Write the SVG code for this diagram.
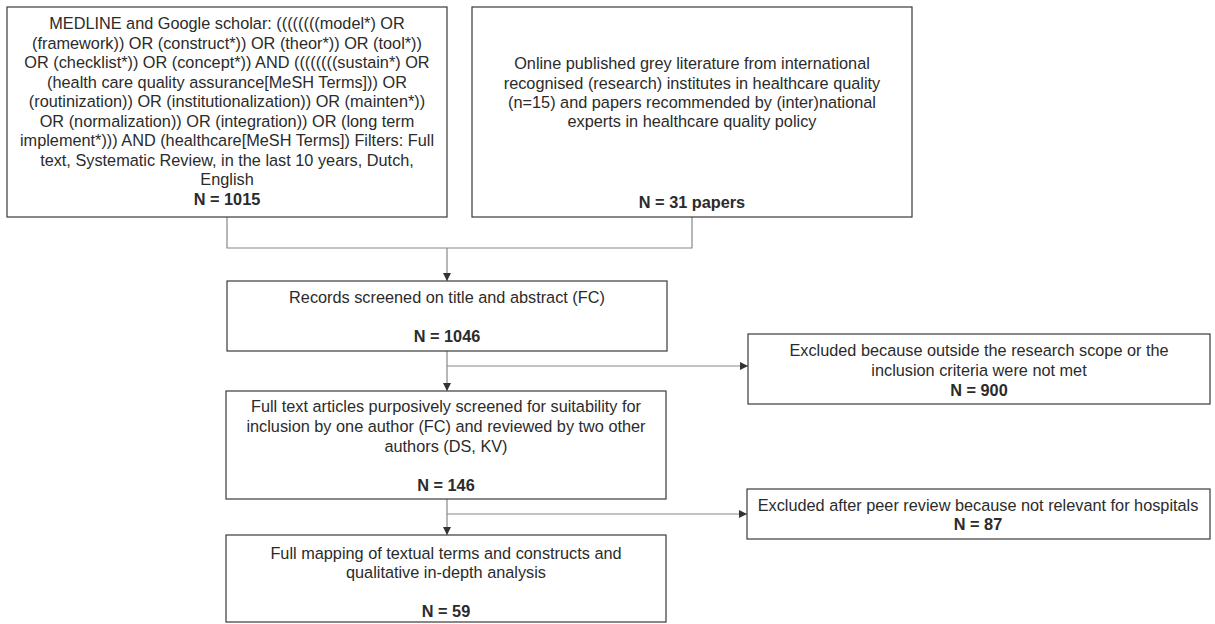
<svg xmlns="http://www.w3.org/2000/svg" width="1215" height="624" viewBox="0 0 1215 624">
<style>
.box{fill:#fff;stroke:#3a3a3a;stroke-width:1.2}
.t{font-family:"Liberation Sans",Arial,sans-serif;font-size:16.3px;fill:#2b2b2b;text-anchor:middle}
.b{font-weight:bold}
.c{fill:none;stroke:#888;stroke-width:1.2}
</style>
<defs>
<marker id="ah" viewBox="0 0 10 10" refX="10" refY="5" markerWidth="8" markerHeight="8" markerUnits="userSpaceOnUse" orient="auto">
<path d="M0,0 L10,5 L0,10 z" fill="#333"/>
</marker>
</defs>
<rect width="1215" height="624" fill="#fff"/>
<g id="connectors">
<path class="c" d="M227,217 V248 H692 V217"/>
<path class="c" d="M447,248 V281" marker-end="url(#ah)"/>
<path class="c" d="M447,351 V391" marker-end="url(#ah)"/>
<path class="c" d="M447,366 H748" marker-end="url(#ah)"/>
<path class="c" d="M447,499 V535" marker-end="url(#ah)"/>
<path class="c" d="M447,514 H747" marker-end="url(#ah)"/>
</g>
<g id="n1">
<rect class="box" x="7" y="7" width="440" height="210"/>
<text class="t" x="227" y="29">MEDLINE and Google scholar: ((((((((model*) OR</text>
<text class="t" x="227" y="48.5">(framework)) OR (construct*)) OR (theor*)) OR (tool*))</text>
<text class="t" x="227" y="68">OR (checklist*)) OR (concept*)) AND ((((((((sustain*) OR</text>
<text class="t" x="227" y="87.5">(health care quality assurance[MeSH Terms])) OR</text>
<text class="t" x="227" y="107">(routinization)) OR (institutionalization)) OR (mainten*))</text>
<text class="t" x="227" y="126.5">OR (normalization)) OR (integration)) OR (long term</text>
<text class="t" x="227" y="146">implement*))) AND (healthcare[MeSH Terms]) Filters: Full</text>
<text class="t" x="227" y="165.5">text, Systematic Review, in the last 10 years, Dutch,</text>
<text class="t" x="227" y="185">English</text>
<text class="t b" x="227" y="204.5">N = 1015</text>
</g>
<g id="n2">
<rect class="box" x="472" y="7" width="440" height="210"/>
<text class="t" x="692" y="69">Online published grey literature from international</text>
<text class="t" x="692" y="89">recognised (research) institutes in healthcare quality</text>
<text class="t" x="692" y="108">(n=15) and papers recommended by (inter)national</text>
<text class="t" x="692" y="127">experts in healthcare quality policy</text>
<text class="t b" x="692" y="208">N = 31 papers</text>
</g>
<g id="n3">
<rect class="box" x="227" y="281" width="440" height="70"/>
<text class="t" x="447" y="303">Records screened on title and abstract (FC)</text>
<text class="t b" x="447" y="342">N = 1046</text>
</g>
<g id="n4">
<rect class="box" x="748" y="334" width="462" height="70"/>
<text class="t" x="979" y="356">Excluded because outside the research scope or the</text>
<text class="t" x="979" y="376">inclusion criteria were not met</text>
<text class="t b" x="979" y="396">N = 900</text>
</g>
<g id="n5">
<rect class="box" x="226" y="391" width="440" height="108"/>
<text class="t" x="446" y="412">Full text articles purposively screened for suitability for</text>
<text class="t" x="446" y="432">inclusion by one author (FC) and reviewed by two other</text>
<text class="t" x="446" y="452">authors (DS, KV)</text>
<text class="t b" x="446" y="491">N = 146</text>
</g>
<g id="n6">
<rect class="box" x="747" y="489" width="463" height="50"/>
<text class="t" x="978" y="511">Excluded after peer review because not relevant for hospitals</text>
<text class="t b" x="978" y="530">N = 87</text>
</g>
<g id="n7">
<rect class="box" x="226" y="535" width="440" height="87"/>
<text class="t" x="446" y="559">Full mapping of textual terms and constructs and</text>
<text class="t" x="446" y="578">qualitative in-depth analysis</text>
<text class="t b" x="446" y="617">N = 59</text>
</g>
</svg>
